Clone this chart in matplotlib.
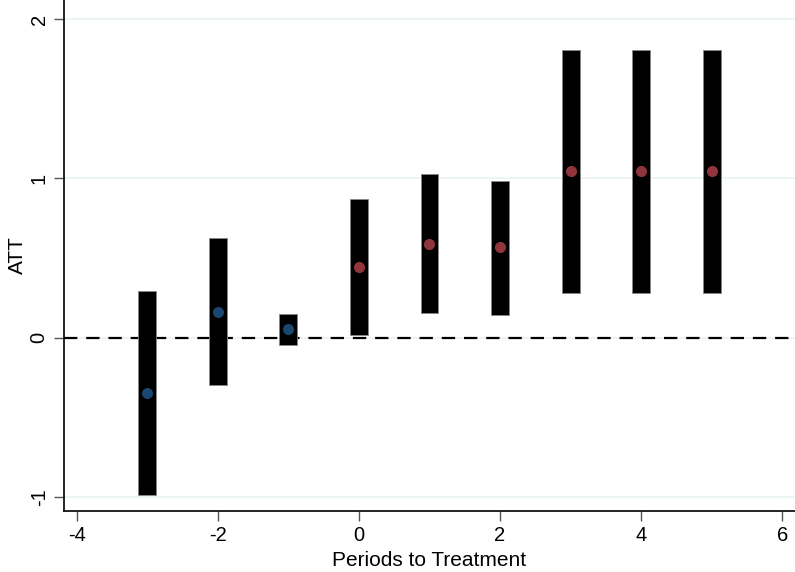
import matplotlib
matplotlib.use("Agg")
import matplotlib.pyplot as plt

plt.rcParams['font.family'] = ['Liberation Sans', 'DejaVu Sans']

periods = [-3, -2, -1, 0, 1, 2, 3, 4, 5]
att = [-0.345, 0.163, 0.056, 0.445, 0.589, 0.571, 1.047, 1.047, 1.047]
ci_low = [-0.99, -0.295, -0.044, 0.019, 0.157, 0.144, 0.282, 0.282, 0.282]
ci_high = [0.29, 0.627, 0.15, 0.871, 1.028, 0.984, 1.806, 1.806, 1.806]
xticks = [-4, -2, 0, 2, 4, 6]
yticks = [-1, 0, 1, 2]

fig = plt.figure(figsize=(7.95, 5.72), dpi=100)
ax = fig.add_axes([64/795, 61/572, 1 - 64/795, 1 - 61/572])

for y in yticks:
    ax.axhline(y, color='#eaf2f3', lw=1.2, zorder=0)
ax.axhline(0, color='black', lw=1.6, ls=(0, (6, 4)), zorder=1)

heights = [h - l for h, l in zip(ci_high, ci_low)]
ax.bar(periods, heights, bottom=ci_low, width=0.255, color='black',
       edgecolor='#888888', linewidth=0.6, zorder=2)

pre_x = [p for p in periods if p < 0]
pre_y = [a for p, a in zip(periods, att) if p < 0]
post_x = [p for p in periods if p >= 0]
post_y = [a for p, a in zip(periods, att) if p >= 0]
ax.plot(pre_x, pre_y, 'o', color='#1a476f', ms=8, mec='none', zorder=3)
ax.plot(post_x, post_y, 'o', color='#90353b', ms=8, mec='none', zorder=3)

ax.set_xlim(-4.18, 6.18)
ax.set_ylim(-1.088, 2.12)
ax.set_xticks(xticks)
ax.set_yticks(yticks)
ax.set_xticklabels([str(t) for t in xticks], fontsize=14.5)
ax.set_yticklabels([str(t) for t in yticks], fontsize=14.5, rotation=90, va='center')
ax.tick_params(axis='both', length=7, width=1, color='#555555', pad=4)
for s in ['top', 'right']:
    ax.spines[s].set_visible(False)
for s in ['left', 'bottom']:
    ax.spines[s].set_linewidth(1.2)
ax.set_xlabel('Periods to Treatment', fontsize=15, labelpad=4)
ax.set_ylabel('ATT', fontsize=15, labelpad=2)

fig.savefig('out.png', dpi=100)
